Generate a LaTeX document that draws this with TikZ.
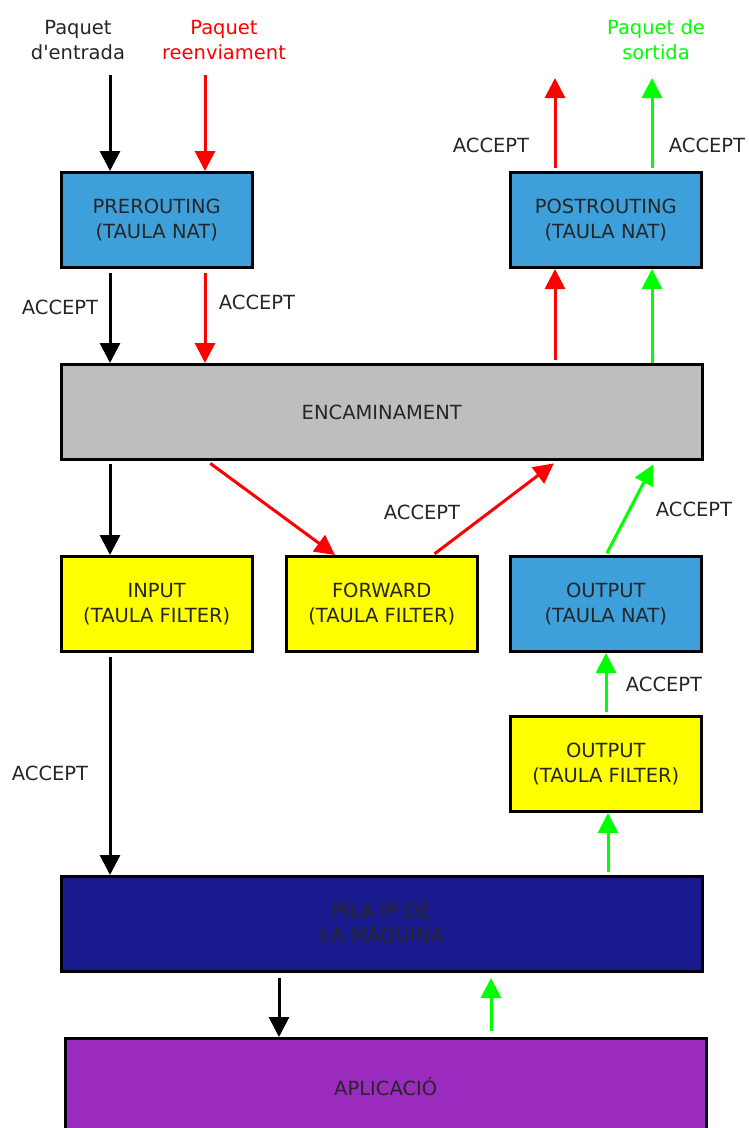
\documentclass[tikz,border=0pt]{standalone}
\usepackage{fontspec}
\setmainfont{DejaVu Sans}
\usetikzlibrary{arrows.meta}
\definecolor{natblue}{RGB}{61,160,219}
\definecolor{routegray}{RGB}{190,190,190}
\definecolor{filteryellow}{RGB}{255,255,0}
\definecolor{stacknavy}{RGB}{26,26,143}
\definecolor{apppurple}{RGB}{154,43,190}
\definecolor{pktred}{RGB}{255,0,0}
\definecolor{pktgreen}{RGB}{0,255,0}
\begin{document}
\begin{tikzpicture}[x=1pt,y=-1pt,
  lbl/.style={font=\fontsize{19.5}{25}\selectfont, text=black!85, align=center, inner sep=0pt},
  box/.style={draw=black, line width=3pt, minimum width=190.5pt, minimum height=95pt,
    anchor=north west, align=center, inner sep=0pt, font=\fontsize{19.5}{24.5}\selectfont, text=black!85},
  widebox/.style={box, minimum width=640.5pt},
  arr/.style={line width=3pt, -{Triangle[width=20pt,length=20pt]}},
  blk/.style={arr, draw=black},
  rd/.style={arr, draw=pktred},
  gr/.style={arr, draw=pktgreen}]
\useasboundingbox (0,0) rectangle (749,1128);

% chains and stages
\node[box, fill=natblue] (pre) at (60,171) {PREROUTING\\(TAULA NAT)};
\node[box, fill=natblue] (post) at (509,171) {POSTROUTING\\(TAULA NAT)};
\node[widebox, fill=routegray] (enc) at (60,363) {ENCAMINAMENT};
\node[box, fill=filteryellow] (inp) at (60,555) {INPUT\\(TAULA FILTER)};
\node[box, fill=filteryellow] (fwd) at (285,555) {FORWARD\\(TAULA FILTER)};
\node[box, fill=natblue] (onat) at (509,555) {OUTPUT\\(TAULA NAT)};
\node[box, fill=filteryellow] (ofil) at (509,715) {OUTPUT\\(TAULA FILTER)};
\node[widebox, fill=stacknavy] (pila) at (60,875) {PILA IP DE\\LA MÀQUINA};
\node[widebox, fill=apppurple, minimum height=96pt] (app) at (64,1037) {APLICACIÓ};

% packet sources and sink
\node[lbl] (inlbl) at (78,40) {Paquet\\d\textquotesingle entrada};
\node[lbl, text=pktred] (fwlbl) at (224,40) {Paquet\\reenviament};
\node[lbl, text=pktgreen] (outlbl) at (656,40) {Paquet de\\sortida};
\coordinate (inTop) at (110,75);
\coordinate (fwTop) at (205,75);
\coordinate (rdOut) at (555,78);
\coordinate (grOut) at (652,78);

% attachment points on the postrouting and output boxes
\coordinate (postR) at ([xshift=46]post.south west);
\coordinate (postG) at ([xshift=143]post.south west);
\coordinate (ofilB) at ([xshift=99]ofil.south west);

% incoming traffic
\draw[blk] (inTop) -- ([xshift=50]pre.north west);
\draw[rd] (fwTop) -- ([xshift=145]pre.north west);
\draw[blk, shorten <=4pt] ([xshift=50]pre.south west) -- ([xshift=50]enc.north west);
\draw[rd, shorten <=4pt] ([xshift=145]pre.south west) -- ([xshift=145]enc.north west);
\node[lbl] (a1) at (60,307) {ACCEPT};
\node[lbl] (a2) at (257,302) {ACCEPT};

% outgoing traffic
\draw[rd, shorten <=3pt] (postR |- enc.north) -- (postR);
\draw[gr] (postG |- enc.north) -- (postG);
\draw[rd, shorten <=3pt] ([xshift=46]post.north west) -- (rdOut);
\draw[gr, shorten <=3pt] ([xshift=143]post.north west) -- (grOut);
\node[lbl] (a3) at (491,145) {ACCEPT};
\node[lbl] (a4) at (707,145) {ACCEPT};

% routing decisions
\draw[blk, shorten <=3pt] ([xshift=50]enc.south west) -- ([xshift=50]inp.north west);
\draw[rd, shorten <=4pt] ([xshift=147]enc.south west) -- ([xshift=50]fwd.north west);
\draw[rd, shorten <=2pt, shorten >=4pt] ([xshift=148]fwd.north west) -- ([xshift=497]enc.south west);
\draw[gr, shorten <=2pt, shorten >=4pt] ([xshift=97]onat.north west) -- ([xshift=595]enc.south west);
\node[lbl] (a5) at (422,512) {ACCEPT};
\node[lbl] (a6) at (694,509) {ACCEPT};

% local output path
\draw[gr, shorten <=3pt] ([xshift=97]ofil.north west) -- ([xshift=97]onat.south west);
\draw[gr, shorten <=3pt] (ofilB |- pila.north) -- (ofilB);
\node[lbl] (a7) at (664,684) {ACCEPT};

% local input path
\draw[blk, shorten <=4pt] ([xshift=50]inp.south west) -- ([xshift=50]pila.north west);
\node[lbl] (a8) at (50,773) {ACCEPT};

% stack and application
\draw[blk, shorten <=5pt] ([xshift=219]pila.south west) -- ([xshift=215]app.north west);
\draw[gr, shorten <=6pt, shorten >=5pt] ([xshift=427]app.north west) -- ([xshift=431]pila.south west);
\end{tikzpicture}
\end{document}
